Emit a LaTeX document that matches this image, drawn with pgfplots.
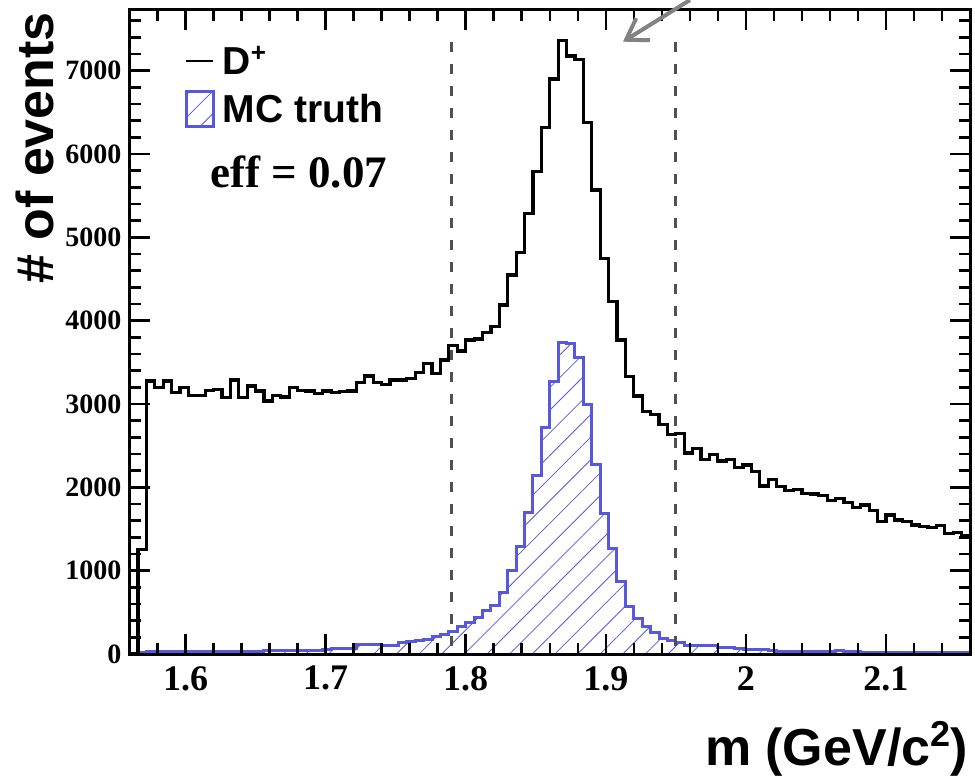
\documentclass[border=0pt]{standalone}
\usepackage{fontspec}
\setmainfont{Liberation Serif}
\newfontfamily\helv{Liberation Sans}
\usepackage{pgfplots}
\usepackage{pgfplotstable}
\pgfplotsset{compat=1.18}
\usetikzlibrary{patterns.meta, arrows.meta}
\definecolor{mcblue}{RGB}{88,88,222}
\definecolor{cutgray}{RGB}{80,80,80}
\definecolor{arrgray}{RGB}{130,130,130}

\pgfplotstableread{
x d mc
1.560 0 8
1.566 1250 20
1.572 3276 28
1.578 3196 28
1.584 3276 28
1.590 3136 30
1.596 3196 28
1.602 3104 28
1.608 3104 26
1.614 3164 30
1.620 3176 30
1.626 3076 30
1.632 3288 30
1.638 3076 32
1.644 3216 32
1.650 3156 36
1.656 3036 44
1.662 3104 46
1.668 3084 44
1.674 3196 46
1.680 3164 48
1.686 3156 46
1.692 3124 48
1.698 3156 52
1.704 3136 64
1.710 3148 68
1.716 3156 68
1.722 3256 112
1.728 3336 116
1.734 3256 112
1.740 3236 104
1.746 3288 104
1.752 3288 144
1.758 3304 148
1.764 3376 164
1.770 3488 176
1.776 3368 206
1.782 3528 232
1.788 3704 272
1.794 3636 334
1.800 3768 384
1.806 3780 436
1.812 3860 528
1.818 3930 580
1.824 4188 740
1.830 4548 1008
1.836 4820 1296
1.842 5288 1700
1.848 5788 2140
1.854 6320 2716
1.860 6900 3268
1.866 7360 3740
1.872 7176 3720
1.878 7136 3556
1.884 6376 2988
1.890 5568 2268
1.896 4748 1688
1.902 4228 1268
1.908 3768 868
1.914 3328 568
1.920 3096 428
1.926 2908 332
1.932 2870 254
1.938 2750 188
1.944 2632 164
1.950 2644 140
1.956 2412 108
1.962 2468 100
1.968 2336 104
1.974 2396 100
1.980 2316 80
1.986 2336 76
1.992 2236 68
1.998 2268 60
2.004 2188 56
2.010 2016 56
2.016 2096 44
2.022 2008 36
2.028 1960 36
2.034 1976 36
2.040 1928 36
2.046 1920 36
2.052 1900 36
2.058 1840 32
2.064 1868 40
2.070 1820 28
2.076 1760 28
2.082 1788 24
2.088 1720 24
2.094 1588 24
2.100 1668 24
2.106 1608 24
2.112 1588 24
2.118 1548 24
2.124 1528 24
2.130 1516 20
2.136 1540 20
2.142 1448 20
2.148 1460 20
2.154 1416 20
2.160 1416 20
}\histdata

\begin{document}
\begin{tikzpicture}
\begin{axis}[
  at={(0pt,0pt)}, anchor=south west,
  scale only axis,
  width=840.5pt, height=644pt,
  xmin=1.56, xmax=2.16,
  ymin=0, ymax=7728,
  axis on top,
  axis line style={line width=3pt},
  tick style={line width=2.5pt, black},
  tick align=inside,
  tick pos=both,
  major tick length=20pt,
  minor tick length=11pt,
  xtick={1.6,1.7,1.8,1.9,2.0,2.1},
  xticklabels={1.6,1.7,1.8,1.9,2,2.1},
  minor xtick={1.58,1.62,1.64,1.66,1.68,1.72,1.74,1.76,1.78,1.82,1.84,1.86,1.88,1.92,1.94,1.96,1.98,2.02,2.04,2.06,2.08,2.12,2.14},
  ytick={0,1000,2000,3000,4000,5000,6000,7000},
  minor ytick={200,400,600,800,1200,1400,1600,1800,2200,2400,2600,2800,3200,3400,3600,3800,4200,4400,4600,4800,5200,5400,5600,5800,6200,6400,6600,6800,7200,7400,7600},
  /pgf/number format/assume math mode=true,
  /pgf/number format/1000 sep={},
  yticklabel style={font=\bfseries\fontsize{28}{30}\selectfont, inner sep=0pt, xshift=-8pt},
  xticklabel style={font=\bfseries\fontsize{36}{38}\selectfont, inner sep=0pt, yshift=-12pt},
  xlabel={m (GeV/c\raisebox{19pt}{\fontsize{36}{38}\selectfont 2})},
  ylabel={\# of events},
  xlabel style={font=\helv\bfseries\fontsize{52}{56}\selectfont, at={(axis description cs:0.99762,-0.1739)}, anchor=base east, inner sep=0pt},
  ylabel style={font=\helv\bfseries\fontsize{52}{56}\selectfont, at={(axis description cs:-0.0910,0.9969)}, anchor=base east, inner sep=0pt},
  legend style={at={(axis description cs:0.066,0.944)}, anchor=north west, draw=none, fill=none, inner sep=0pt, row sep=14pt,
    nodes={inner sep=0pt, font=\helv\bfseries\fontsize{39}{42}\selectfont},
    /tikz/every odd column/.append style={column sep=8pt}},
  legend cell align=left,
  reverse legend,
]
\addplot[const plot, draw=mcblue, line width=3pt,
  pattern={Lines[angle=45, distance=16pt, line width=0.8pt]}, pattern color=mcblue,
  legend image code/.code={\draw[draw=mcblue, line width=2.5pt, pattern={Lines[angle=45, distance=16pt, line width=0.8pt]}, pattern color=mcblue] (0pt,-17pt) rectangle (27pt,18pt);}]
  table[x=x, y=mc] {\histdata} \closedcycle;
\addplot[const plot, draw=black, line width=3.2pt,
  legend image code/.code={\draw[black, line width=2.5pt] (0pt,0pt) -- (27pt,0pt);}]
  table[x=x, y=d] {\histdata};
\legend{MC truth, D\raisebox{13pt}{\fontsize{26}{28}\selectfont +}}
\draw[cutgray, line width=3pt, dash pattern=on 10pt off 12pt] (axis cs:1.79,7340) -- (axis cs:1.79,0);
\draw[cutgray, line width=3pt, dash pattern=on 10pt off 12pt] (axis cs:1.95,7340) -- (axis cs:1.95,0);
\end{axis}
\node[anchor=base west, inner sep=0pt, font=\bfseries\fontsize{45}{48}\selectfont] at (80.5pt,466pt) {eff = 0.07};
\draw[arrgray, line width=4pt, -{Straight Barb[length=20pt,width=26pt]}] (560.5pt,654pt) -- (493.5pt,612.3pt);
\pgfresetboundingbox
\path (-129.5pt,-125pt) rectangle (845.5pt,654pt);
\end{tikzpicture}
\end{document}
